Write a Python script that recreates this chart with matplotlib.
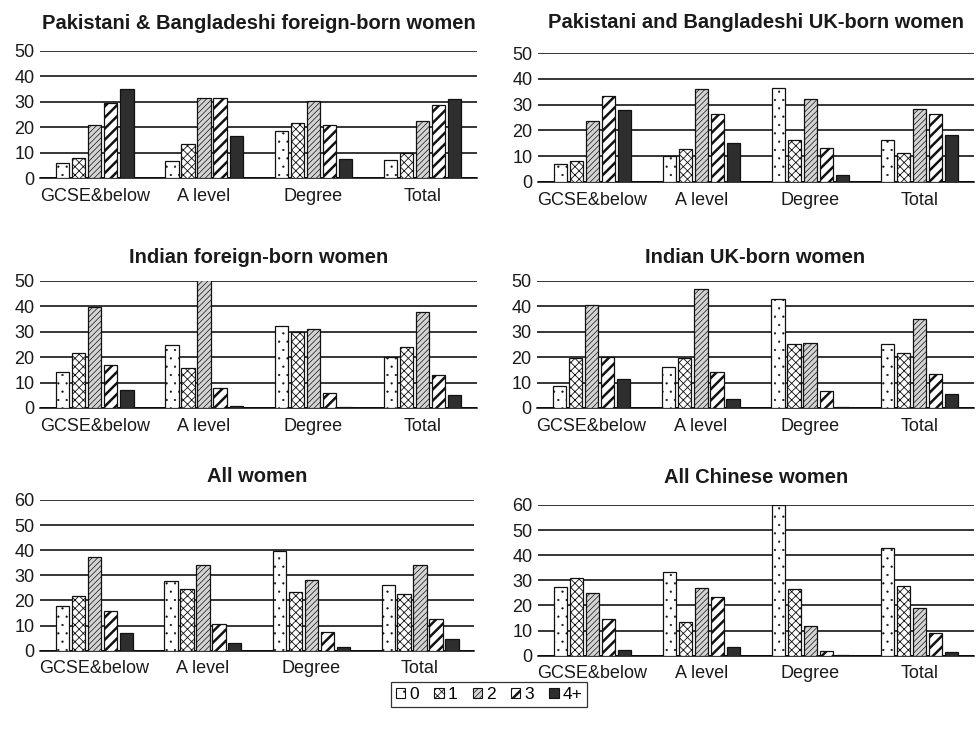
#!/usr/bin/env python3
""" fertility by qualification, six panels """
import numpy as np
import matplotlib
matplotlib.use('Agg')
import matplotlib.pyplot as plt
from matplotlib.patches import Patch

plt.rcParams['font.family'] = ['Liberation Sans', 'DejaVu Sans']

categories = ['GCSE&below', 'A level', 'Degree', 'Total']
series = ['0', '1', '2', '3', '4+']

# rows: categories, cols: number of children 0, 1, 2, 3, 4+
pak_foreign = [[6.0, 8.0, 20.9, 29.5, 35.2],
               [6.7, 13.4, 31.4, 31.4, 16.7],
               [18.6, 21.8, 30.4, 21.0, 7.7],
               [7.3, 9.7, 22.6, 28.9, 31.2]]
pak_uk = [[7.1, 8.2, 23.8, 33.4, 27.8],
          [10.1, 12.6, 36.2, 26.2, 14.9],
          [36.5, 16.1, 32.1, 13.0, 2.6],
          [16.4, 11.2, 28.2, 26.2, 18.3]]
ind_foreign = [[14.2, 21.8, 39.6, 16.7, 7.2],
               [24.7, 15.9, 50.5, 7.9, 0.8],
               [32.3, 29.9, 31.2, 5.9, 0.4],
               [19.9, 23.9, 37.9, 13.1, 5.0]]
ind_uk = [[8.8, 19.5, 40.3, 20.1, 11.4],
          [16.1, 19.8, 46.7, 14.1, 3.7],
          [42.8, 25.1, 25.7, 6.7, 0.5],
          [25.1, 21.8, 34.9, 13.2, 5.5]]
all_women = [[17.9, 21.9, 37.2, 15.8, 7.0],
             [27.6, 24.4, 34.3, 10.8, 3.1],
             [39.7, 23.2, 28.2, 7.4, 1.6],
             [26.0, 22.7, 34.0, 12.5, 4.8]]
chinese = [[27.5, 30.8, 25.1, 14.6, 2.3],
           [33.5, 13.4, 26.8, 23.5, 3.3],
           [60.0, 26.4, 11.8, 2.0, 0.4],
           [42.9, 27.8, 19.0, 9.2, 1.3]]

# title, data, y max, axes rect, title pad
panels = [
    ('Pakistani & Bangladeshi foreign-born women', pak_foreign, 50,
     [0.041, 0.759, 0.447, 0.172], 16),
    ('Pakistani and Bangladeshi UK-born women', pak_uk, 50,
     [0.550, 0.754, 0.446, 0.174], 18),
    ('Indian foreign-born women', ind_foreign, 50,
     [0.041, 0.448, 0.447, 0.172], 13),
    ('Indian UK-born women', ind_uk, 50,
     [0.549, 0.448, 0.447, 0.172], 13),
    ('All women', all_women, 60,
     [0.041, 0.1195, 0.444, 0.204], 13),
    ('All Chinese women', chinese, 60,
     [0.550, 0.1127, 0.446, 0.204], 16),
]

# hatch, facecolor, hatch linewidth per series
styles = [('..', 'white', 0.35),
          ('xxxx', 'white', 0.6),
          ('//////', '#d4d4d4', 0.5),
          ('///', 'white', 1.8),
          ('', '#2e2e2e', 1.0)]

fig = plt.figure(figsize=(9.78, 7.39), dpi=100)
x = np.arange(len(categories))
width = 0.122
step = 0.147

for title, data, ymax, rect, pad in panels:
    ax = fig.add_axes(rect)
    vals = np.array(data)
    for i, (hatch, fc, hlw) in enumerate(styles):
        plt.rcParams['hatch.linewidth'] = hlw
        bars = ax.bar(x + (i - 2) * step, vals[:, i], width, color=fc,
                      edgecolor='#111111', linewidth=0.9, hatch=hatch,
                      zorder=3)
        for b in bars:
            if hasattr(b, 'set_hatch_linewidth'):
                b.set_hatch_linewidth(hlw)
    ax.set_xlim(-0.5, 3.5)
    ax.set_ylim(0, ymax)
    ax.set_yticks(np.arange(0, ymax + 1, 10))
    ax.set_xticks(x)
    ax.set_xticklabels(categories)
    ax.yaxis.grid(True, color='black', linewidth=1.1)
    ax.set_axisbelow(True)
    for side in ('left', 'top', 'right'):
        ax.spines[side].set_visible(False)
    ax.spines['bottom'].set_color('black')
    ax.spines['bottom'].set_linewidth(1.1)
    ax.tick_params(axis='both', length=0, labelsize=13, colors='#1a1a1a')
    ax.tick_params(axis='x', pad=7)
    ax.tick_params(axis='y', pad=4)
    ax.set_title(title, fontsize=14.5, fontweight='bold', pad=pad,
                 color='#1a1a1a')

# legend with small hatched squares
handles = []
for hatch, fc, hlw in styles:
    plt.rcParams['hatch.linewidth'] = hlw
    handles.append(Patch(facecolor=fc, edgecolor='#111111', hatch=hatch,
                         linewidth=0.8))
plt.rcParams['hatch.linewidth'] = 1.0
leg = fig.legend(handles, series, loc='center', bbox_to_anchor=(0.5, 0.06),
                 ncol=5, fontsize=12.5, frameon=True, fancybox=False,
                 edgecolor='black', handlelength=0.55, handleheight=0.55,
                 handletextpad=0.2, columnspacing=0.9, borderpad=0.3)
leg.get_frame().set_linewidth(0.9)
for p, (hatch, fc, hlw) in zip(leg.get_patches(), styles):
    if hasattr(p, 'set_hatch_linewidth'):
        p.set_hatch_linewidth(hlw)

fig.savefig('out.png', dpi=100)
